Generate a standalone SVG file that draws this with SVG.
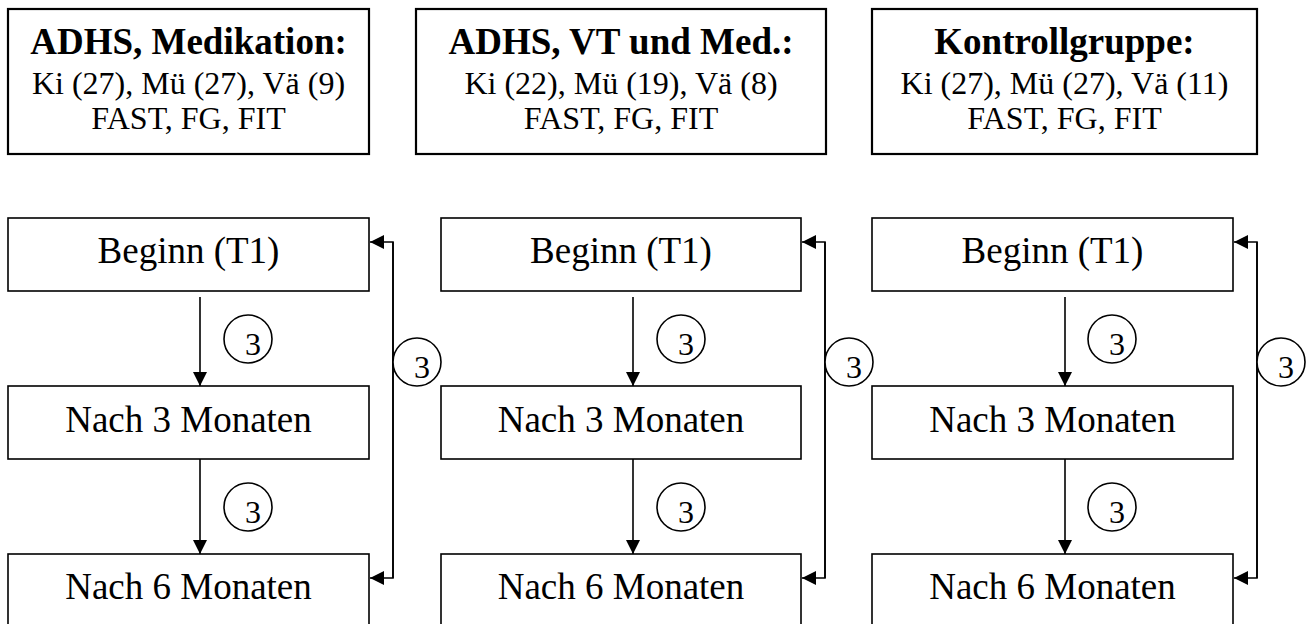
<svg xmlns="http://www.w3.org/2000/svg" width="1311" height="624" viewBox="0 0 1311 624">
  <style>
    .box { fill: #fff; stroke: #000; stroke-width: 1.6; }
    .head { fill: #fff; stroke: #000; stroke-width: 2.2; }
    .title { font-family: "Liberation Serif", "Times New Roman", serif; font-weight: bold; font-size: 37px; text-anchor: middle; fill: #000; }
    .info { font-family: "Liberation Serif", "Times New Roman", serif; font-size: 32px; text-anchor: middle; fill: #000; }
    .label { font-family: "Liberation Serif", "Times New Roman", serif; font-size: 37px; text-anchor: middle; fill: #000; }
    .badge { fill: #fff; stroke: #000; stroke-width: 1.6; }
    .badge-text { font-family: "Liberation Serif", "Times New Roman", serif; font-size: 32px; text-anchor: middle; fill: #000; }
    .link { fill: none; stroke: #000; stroke-width: 1.6; }
  </style>
  <defs>
    <marker id="arrow" markerUnits="userSpaceOnUse" markerWidth="15" markerHeight="14" refX="14" refY="7" orient="auto">
      <path d="M0,0 L14,7 L0,14 Z" fill="#000"/>
    </marker>
  </defs>

  <rect width="1311" height="624" fill="#fff"/>

  <!-- group headers -->
  <g id="group-medikation">
    <rect class="head" x="8" y="9" width="361" height="145"/>
    <text class="title" x="188.5" y="54">ADHS, Medikation:</text>
    <text class="info" x="188.5" y="94">Ki (27), Mü (27), Vä (9)</text>
    <text class="info" x="188.5" y="129">FAST, FG, FIT</text>
  </g>
  <g id="group-vt-med">
    <rect class="head" x="416" y="9" width="410" height="145"/>
    <text class="title" x="621" y="54">ADHS, VT und Med.:</text>
    <text class="info" x="621" y="94">Ki (22), Mü (19), Vä (8)</text>
    <text class="info" x="621" y="129">FAST, FG, FIT</text>
  </g>
  <g id="group-kontrolle">
    <rect class="head" x="872" y="9" width="385" height="145"/>
    <text class="title" x="1064.5" y="54">Kontrollgruppe:</text>
    <text class="info" x="1064.5" y="94">Ki (27), Mü (27), Vä (11)</text>
    <text class="info" x="1064.5" y="129">FAST, FG, FIT</text>
  </g>

  <!-- column 1 -->
  <g id="c1-t1"><rect class="box" x="8" y="218" width="361" height="73"/><text class="label" x="188.5" y="263">Beginn (T1)</text></g>
  <g id="c1-t2"><rect class="box" x="8" y="386" width="361" height="73"/><text class="label" x="188.5" y="432">Nach 3 Monaten</text></g>
  <g id="c1-t3"><rect class="box" x="8" y="554" width="361" height="90"/><text class="label" x="188.5" y="599">Nach 6 Monaten</text></g>

  <!-- column 2 -->
  <g id="c2-t1"><rect class="box" x="441" y="218" width="360" height="73"/><text class="label" x="621" y="263">Beginn (T1)</text></g>
  <g id="c2-t2"><rect class="box" x="441" y="386" width="360" height="73"/><text class="label" x="621" y="432">Nach 3 Monaten</text></g>
  <g id="c2-t3"><rect class="box" x="441" y="554" width="360" height="90"/><text class="label" x="621" y="599">Nach 6 Monaten</text></g>

  <!-- column 3 -->
  <g id="c3-t1"><rect class="box" x="872" y="218" width="361" height="73"/><text class="label" x="1052.5" y="263">Beginn (T1)</text></g>
  <g id="c3-t2"><rect class="box" x="872" y="386" width="361" height="73"/><text class="label" x="1052.5" y="432">Nach 3 Monaten</text></g>
  <g id="c3-t3"><rect class="box" x="872" y="554" width="361" height="90"/><text class="label" x="1052.5" y="599">Nach 6 Monaten</text></g>

  <!-- connectors -->
  <g id="connectors">
    <line class="link" x1="200" y1="297" x2="200" y2="386" marker-end="url(#arrow)"/>
    <line class="link" x1="200" y1="459" x2="200" y2="554" marker-end="url(#arrow)"/>
    <path class="link" d="M393,242 V578 H370" marker-end="url(#arrow)"/>
    <path class="link" d="M393,578 V242 H370" marker-end="url(#arrow)"/>

    <line class="link" x1="633" y1="297" x2="633" y2="386" marker-end="url(#arrow)"/>
    <line class="link" x1="633" y1="459" x2="633" y2="554" marker-end="url(#arrow)"/>
    <path class="link" d="M825,242 V578 H802" marker-end="url(#arrow)"/>
    <path class="link" d="M825,578 V242 H802" marker-end="url(#arrow)"/>

    <line class="link" x1="1065" y1="297" x2="1065" y2="386" marker-end="url(#arrow)"/>
    <line class="link" x1="1065" y1="459" x2="1065" y2="554" marker-end="url(#arrow)"/>
    <path class="link" d="M1257,242 V578 H1234" marker-end="url(#arrow)"/>
    <path class="link" d="M1257,578 V242 H1234" marker-end="url(#arrow)"/>
  </g>

  <!-- interval badges -->
  <g id="badges">
    <circle class="badge" cx="248" cy="339" r="24"/><text class="badge-text" x="253" y="355">3</text>
    <circle class="badge" cx="248" cy="507" r="24"/><text class="badge-text" x="253" y="523">3</text>
    <circle class="badge" cx="417" cy="362" r="24"/><text class="badge-text" x="422" y="378">3</text>

    <circle class="badge" cx="681" cy="339" r="24"/><text class="badge-text" x="686" y="355">3</text>
    <circle class="badge" cx="681" cy="507" r="24"/><text class="badge-text" x="686" y="523">3</text>
    <circle class="badge" cx="849" cy="362" r="24"/><text class="badge-text" x="854" y="378">3</text>

    <circle class="badge" cx="1112" cy="339" r="24"/><text class="badge-text" x="1117" y="355">3</text>
    <circle class="badge" cx="1112" cy="507" r="24"/><text class="badge-text" x="1117" y="523">3</text>
    <circle class="badge" cx="1281" cy="362" r="24"/><text class="badge-text" x="1286" y="378">3</text>
  </g>
</svg>
